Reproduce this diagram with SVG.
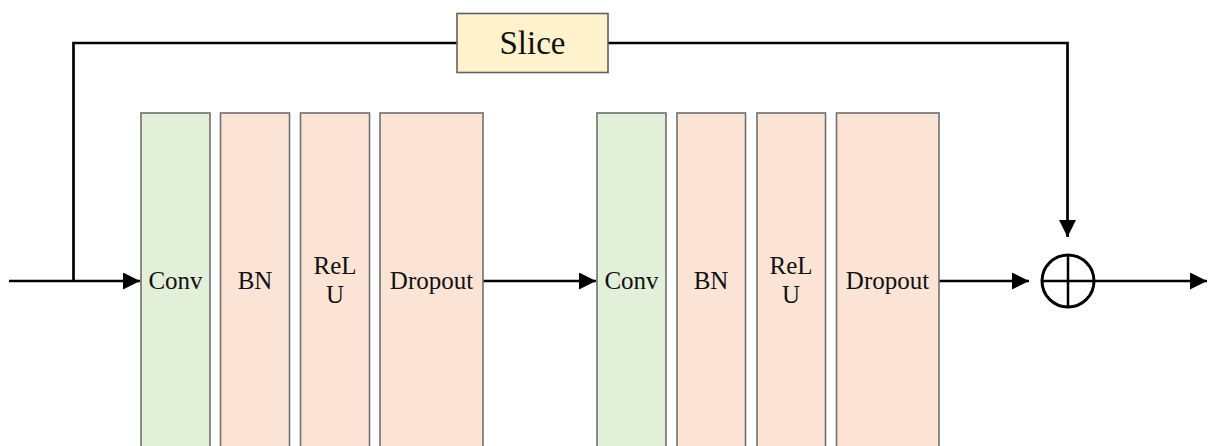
<svg xmlns="http://www.w3.org/2000/svg" width="1208" height="446" viewBox="0 0 1208 446">
  <style>
    .blk { stroke: #707070; stroke-width: 1.6; }
    .conv { fill: #E2EFD9; }
    .peach { fill: #FBE4D5; }
    .slice { fill: #FFF2CC; stroke: #606060; stroke-width: 1.6; }
    .lbl { font-family: 'Liberation Serif', Tinos, 'Times New Roman', 'DejaVu Serif', serif; font-size: 25px; fill: #111; text-anchor: middle; }
    .big { font-size: 33px; }
    .wire { fill: none; stroke: #000; stroke-width: 2.7; }
  </style>
  <defs>
    <marker id="arr" markerUnits="userSpaceOnUse" markerWidth="17" markerHeight="17" refX="17" refY="8.5" orient="auto" viewBox="0 0 17 17">
      <path d="M0,0 L17,8.5 L0,17 Z" fill="#000"/>
    </marker>
  </defs>
  <rect width="1208" height="446" fill="#fff"/>

  <g id="connectors">
    <path class="wire" d="M9,281 H140" marker-end="url(#arr)"/>
    <path class="wire" d="M73.5,281 V43 H457"/>
    <path class="wire" d="M608,43 H1067.5 V237" marker-end="url(#arr)"/>
    <path class="wire" d="M483,281 H596" marker-end="url(#arr)"/>
    <path class="wire" d="M939,281 H1029" marker-end="url(#arr)"/>
    <path class="wire" d="M1094,281 H1207" marker-end="url(#arr)"/>
  </g>

  <g id="slice">
    <rect class="slice" x="457" y="13.5" width="151" height="59"/>
    <text class="lbl big" x="532.5" y="54" font-family="Liberation Serif, serif">Slice</text>
  </g>

  <g id="conv1">
    <rect class="blk conv" x="141" y="113" width="69" height="340"/>
    <text class="lbl" x="175.5" y="289">Conv</text>
  </g>
  <g id="bn1">
    <rect class="blk peach" x="220.5" y="113" width="69" height="340"/>
    <text class="lbl" x="255" y="289">BN</text>
  </g>
  <g id="relu1">
    <rect class="blk peach" x="300.5" y="113" width="69" height="340"/>
    <text class="lbl" x="335" y="274">ReL</text>
    <text class="lbl" x="335" y="303">U</text>
  </g>
  <g id="dropout1">
    <rect class="blk peach" x="380" y="113" width="103" height="340"/>
    <text class="lbl" x="431.5" y="289">Dropout</text>
  </g>

  <g id="conv2">
    <rect class="blk conv" x="597" y="113" width="69" height="340"/>
    <text class="lbl" x="631.5" y="289">Conv</text>
  </g>
  <g id="bn2">
    <rect class="blk peach" x="677" y="113" width="68.5" height="340"/>
    <text class="lbl" x="711" y="289">BN</text>
  </g>
  <g id="relu2">
    <rect class="blk peach" x="757" y="113" width="68.5" height="340"/>
    <text class="lbl" x="791" y="274">ReL</text>
    <text class="lbl" x="791" y="303">U</text>
  </g>
  <g id="dropout2">
    <rect class="blk peach" x="836.5" y="113" width="102.5" height="340"/>
    <text class="lbl" x="887.5" y="289">Dropout</text>
  </g>

  <g id="sum">
    <circle cx="1068" cy="281" r="26" fill="#fff" stroke="#000" stroke-width="3"/>
    <path d="M1042,281 H1094 M1068,255 V307" stroke="#000" stroke-width="2.5" fill="none"/>
  </g>
</svg>
